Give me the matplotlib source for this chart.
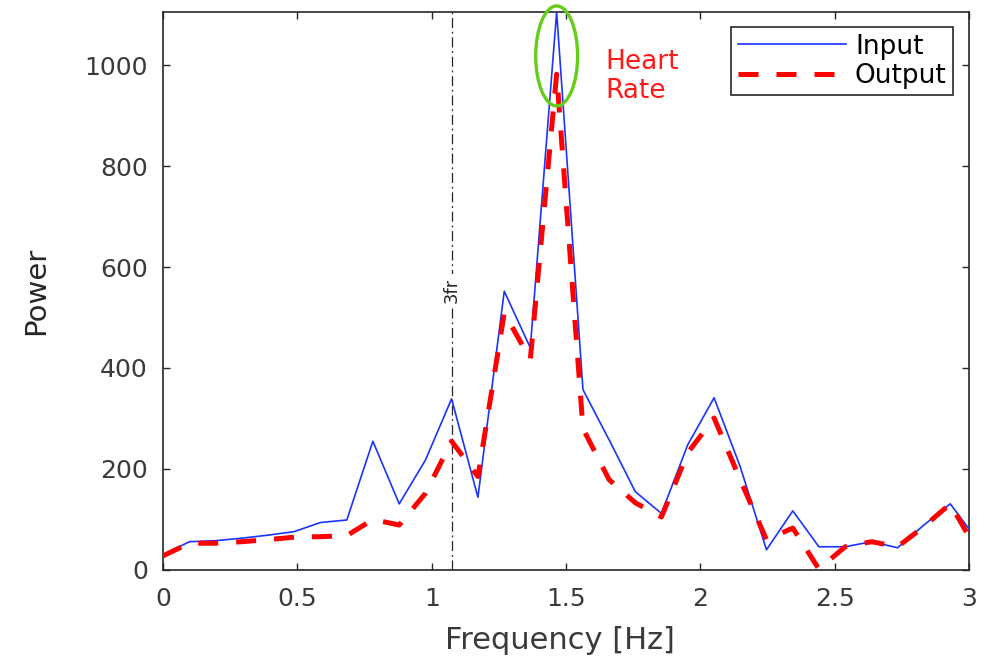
import matplotlib
matplotlib.use("Agg")
import matplotlib.pyplot as plt
from matplotlib.patches import Ellipse

plt.rcParams['font.family'] = ['DejaVu Sans']

# Spectrum bins (Hz)
freq = [0.000, 0.098, 0.195, 0.293, 0.391, 0.488, 0.586, 0.684, 0.781, 0.879,
        0.977, 1.074, 1.172, 1.270, 1.367, 1.465, 1.563, 1.660, 1.758, 1.855,
        1.953, 2.051, 2.148, 2.246, 2.344, 2.441, 2.539, 2.637, 2.734, 2.832,
        2.930, 3.027]

# Power spectrum of the input and the filtered output
power_input = [30, 56, 58, 63, 69, 76, 94, 99, 255, 131,
               218, 339, 144, 552, 440, 1105, 357, 258, 155, 112,
               248, 341, 205, 40, 117, 46, 46, 56, 44, 89,
               131, 62]
power_output = [28, 53, 53, 56, 60, 65, 66, 68, 100, 89,
                152, 255, 185, 509, 417, 982, 280, 179, 133, 105,
                232, 301, 179, 60, 83, 2, 46, 56, 46, 86,
                131, 41]

series_labels = ["Input", "Output"]
marker_freq = 1.075          # third harmonic of the respiration frequency
marker_label = "3fr"
peak_label = "Heart\nRate"
x_ticks = [0, 0.5, 1, 1.5, 2, 2.5, 3]
x_tick_labels = ["0", "0.5", "1", "1.5", "2", "2.5", "3"]
y_ticks = [0, 200, 400, 600, 800, 1000]

dark = "#262626"
label_grey = "#3a3a3a"

fig = plt.figure(figsize=(9.84, 6.63), dpi=100)
ax = fig.add_axes([0.1657, 0.1403, 0.8191, 0.8416])

ax.plot(freq, power_input, color="#1a33ff", lw=1.2, label=series_labels[0], zorder=3)
ax.plot(freq, power_output, color="#ff0000", lw=3.6, dashes=(4.0, 3.6),
        label=series_labels[1], zorder=4)

ax.set_xlim(0, 3)
ax.set_ylim(0, max(power_input))

# Vertical marker with rotated label
ax.axvline(marker_freq, color=dark, lw=0.9, linestyle=(0, (8, 3, 1.5, 3)), zorder=2)
ax.text(marker_freq, 554, marker_label, rotation=90, ha="center", va="center",
        fontsize=13, color=dark, zorder=5,
        bbox=dict(facecolor="white", edgecolor="none", pad=2.5))

# Highlight around the heart-rate peak
peak_idx = power_input.index(max(power_input))
ell = Ellipse((freq[peak_idx], 1018), width=0.156, height=198, fill=False,
              edgecolor="#66cc1a", lw=2.4, clip_on=False, zorder=6)
ax.add_patch(ell)
ax.text(1.645, 977, peak_label, color="#ff1a1a", fontsize=19,
        ha="left", va="center", linespacing=1.15)

ax.set_xticks(x_ticks)
ax.set_xticklabels(x_tick_labels)
ax.set_yticks(y_ticks)
ax.tick_params(direction="in", length=5, width=1, colors=dark, labelsize=18,
               top=True, right=True)
ax.tick_params(axis="x", pad=12)
ax.tick_params(axis="y", pad=11)
for label in ax.get_xticklabels() + ax.get_yticklabels():
    label.set_color(label_grey)
for sp in ax.spines.values():
    sp.set_color(dark)
    sp.set_linewidth(1.2)

ax.set_xlabel("Frequency [Hz]", fontsize=22, color=label_grey)
ax.xaxis.set_label_coords(0.4926, -0.100)
ax.set_ylabel("Power", fontsize=21, color=dark)
ax.yaxis.set_label_coords(-0.140, 0.5)

leg = ax.legend(loc="upper right", bbox_to_anchor=(0.9805, 0.9731),
                fontsize=19, handlelength=4.1, handletextpad=0.34,
                borderpad=0.25, labelspacing=0.12, borderaxespad=0.0,
                fancybox=False, framealpha=1)
leg.get_frame().set_edgecolor(dark)
leg.get_frame().set_linewidth(1.2)

fig.savefig("out.png", dpi=100)
